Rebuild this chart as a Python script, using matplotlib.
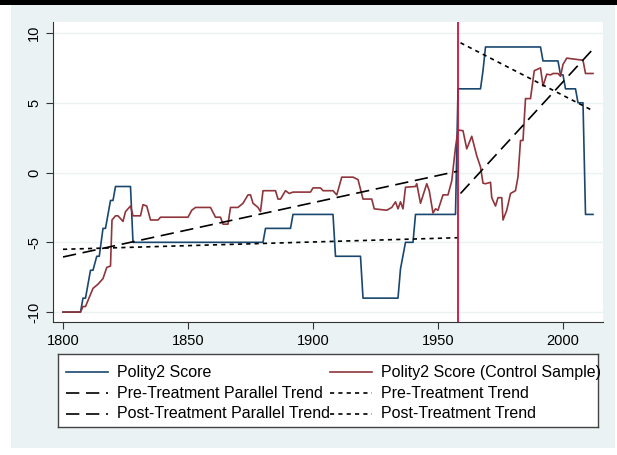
import matplotlib.pyplot as plt
from matplotlib.patches import Rectangle

plt.rcParams['font.family'] = ['Liberation Sans', 'DejaVu Sans']

# Polity2 score (treated country)
polity_years = [1800, 1807, 1808, 1809, 1811, 1812, 1813.5, 1814.5, 1816, 1817, 1819, 1820, 1821,
                1827, 1828, 1880, 1881, 1891, 1892, 1908, 1909, 1919, 1920, 1934, 1935, 1937,
                1940, 1941, 1957, 1958, 1967, 1968, 1969, 1991, 1992, 1998, 1999, 2000, 2001,
                2005, 2006, 2008, 2009, 2012]
polity_vals = [-10, -10, -9, -9, -7, -7, -6, -6, -4, -4, -2, -2, -1,
               -1, -5, -5, -4, -4, -3, -3, -6, -6, -9, -9, -6.9, -5,
               -5, -3, -3, 6, 6, 7.3, 9, 9, 8, 8, 7, 7, 6,
               6, 5, 5, -3, -3]

# Polity2 score, control sample
control_years = [1800, 1807, 1808, 1809, 1812, 1814, 1816, 1817.5, 1819, 1819.6, 1821, 1822, 1824,
                 1825, 1827, 1828, 1831, 1832, 1833.5, 1835, 1838, 1839, 1850, 1851.5, 1853,
                 1859, 1861, 1863, 1864, 1866, 1867, 1870, 1872, 1874, 1875, 1876, 1878, 1879,
                 1880, 1885, 1886, 1887, 1889, 1890.5, 1892, 1899, 1900, 1903, 1904, 1908,
                 1909.5, 1911.5, 1916, 1918, 1920, 1923.5, 1924.5, 1929.5, 1931.5, 1933, 1934,
                 1935, 1936, 1937, 1941, 1941.5, 1943, 1945.5, 1946.5, 1948, 1949, 1950, 1952,
                 1954, 1955.5, 1957, 1958, 1960, 1961.5, 1963.5, 1965.5, 1967, 1968, 1969,
                 1971, 1971.5, 1973, 1974, 1975.5, 1976, 1977.5, 1979, 1981, 1982, 1983, 1984,
                 1985, 1987, 1988.5, 1991, 1992, 1993.5, 1995, 1996, 1998, 1999, 2000, 2001.5,
                 2008, 2009, 2012]
control_vals = [-10, -10, -9.6, -9.6, -8.3, -8, -7.6, -6.8, -6.7, -3.4, -3.1, -3.1, -3.5,
                -2.8, -2.4, -3.1, -3.1, -2.3, -2.4, -3.4, -3.4, -3.2, -3.2, -2.7, -2.5,
                -2.5, -3.2, -3.2, -3.7, -3.7, -2.5, -2.5, -2.2, -1.6, -1.6, -2.2, -2.5, -2.8,
                -1.3, -1.3, -1.9, -1.9, -1.3, -1.5, -1.4, -1.4, -1.1, -1.1, -1.3, -1.3,
                -1.6, -0.33, -0.33, -0.5, -1.9, -1.9, -2.6, -2.7, -2.5, -2.1, -2.6,
                -2.1, -2.6, -1.05, -1.0, -0.8, -2.2, -0.8, -1.3, -2.9, -2.6, -2.7, -1.6,
                -1.6, -0.6, 1.8, 3.05, 3.0, 1.7, 2.6, 1.2, 0.4, -0.76, -0.8,
                -0.7, -1.8, -2.4, -1.8, -1.8, -3.4, -2.7, -1.5, -1.3, -0.3, 2.3, 2.3,
                5.3, 5.3, 7.3, 7.5, 6.2, 7.05, 7.0, 7.1, 7.1, 6.9, 7.75, 8.2,
                8.05, 7.1, 7.1]

# fitted trend lines (start, end)
pre_par_years = [1800, 1958]
pre_par_vals = [-6.05, 0.1]
post_par_years = [1959, 2011.5]
post_par_vals = [-1.5, 8.75]
pre_trend_years = [1800, 1958]
pre_trend_vals = [-5.5, -4.67]
post_trend_years = [1959, 2012]
post_trend_vals = [9.3, 4.43]

treat_year = 1958

bg = '#eaf2f3'
blue = '#1a476f'
maroon = '#90353b'
longdash = (0, (8, 4))
shortdash = (0, (2.5, 2.5))

fig = plt.figure(figsize=(6.17, 4.55), dpi=100)
fig.patch.set_facecolor('white')
fig.patches.append(Rectangle((11 / 617, 1 - 448 / 455), 604 / 617, 443 / 455,
                             transform=fig.transFigure, facecolor=bg, edgecolor='none', zorder=-2))
fig.patches.append(Rectangle((0, 1 - 5 / 455), 1, 5 / 455,
                             transform=fig.transFigure, facecolor='black', edgecolor='none', zorder=-1))

ax = fig.add_axes([53 / 617, 1 - 322 / 455, 550 / 617, 300 / 455])
ax.set_facecolor('white')
ax.plot(polity_years, polity_vals, color=blue, lw=1.2)
ax.plot(control_years, control_vals, color=maroon, lw=1.2)
ax.plot(pre_par_years, pre_par_vals, color='black', lw=1.2, linestyle=longdash)
ax.plot(pre_trend_years, pre_trend_vals, color='black', lw=1.2, linestyle=shortdash)
ax.plot(post_par_years, post_par_vals, color='black', lw=1.2, linestyle=longdash)
ax.plot(post_trend_years, post_trend_vals, color='black', lw=1.2, linestyle=shortdash)
ax.axvline(treat_year, color='#d0103a', lw=1.3)

ax.set_xlim(1796, 2016)
ax.set_ylim(-10.71, 10.79)
ax.set_xticks([1800, 1850, 1900, 1950, 2000])
ax.set_yticks([-10, -5, 0, 5, 10])
ax.set_yticklabels(['-10', '-5', '0', '5', '10'], rotation=90, va='center')
ax.yaxis.grid(True, color=bg, lw=1)
ax.set_axisbelow(True)
for s in ['top', 'right']:
    ax.spines[s].set_visible(False)
for s in ['left', 'bottom']:
    ax.spines[s].set_color('#333333')
ax.tick_params(labelsize=10.5, length=5, color='#333333')

# legend drawn by hand, Stata style
lg = fig.add_axes([58 / 617, 1 - 427 / 455, 540 / 617, 73 / 455])
lg.set_xlim(0, 540)
lg.set_ylim(73, 0)
lg.set_xticks([])
lg.set_yticks([])
lg.patch.set_facecolor('white')
for s in lg.spines.values():
    s.set_color('#444444')
    s.set_linewidth(1)
items = [
    (0, 18, 'Polity2 Score', dict(color=blue, lw=1.2)),
    (1, 18, 'Polity2 Score (Control Sample)', dict(color=maroon, lw=1.2)),
    (0, 39, 'Pre-Treatment Parallel Trend', dict(color='black', lw=1.2, linestyle=longdash)),
    (1, 39, 'Pre-Treatment Trend', dict(color='black', lw=1.2, linestyle=shortdash)),
    (0, 60, 'Post-Treatment Parallel Trend', dict(color='black', lw=1.2, linestyle=longdash)),
    (1, 60, 'Post-Treatment Trend', dict(color='black', lw=1.2, linestyle=shortdash)),
]
for col, y, label, style in items:
    x0 = 8 if col == 0 else 272
    lg.plot([x0, x0 + 42], [y, y], **style)
    lg.text(x0 + 51, y, label, fontsize=11.5, va='center', ha='left', clip_on=False)

fig.savefig('out.png', dpi=100)
